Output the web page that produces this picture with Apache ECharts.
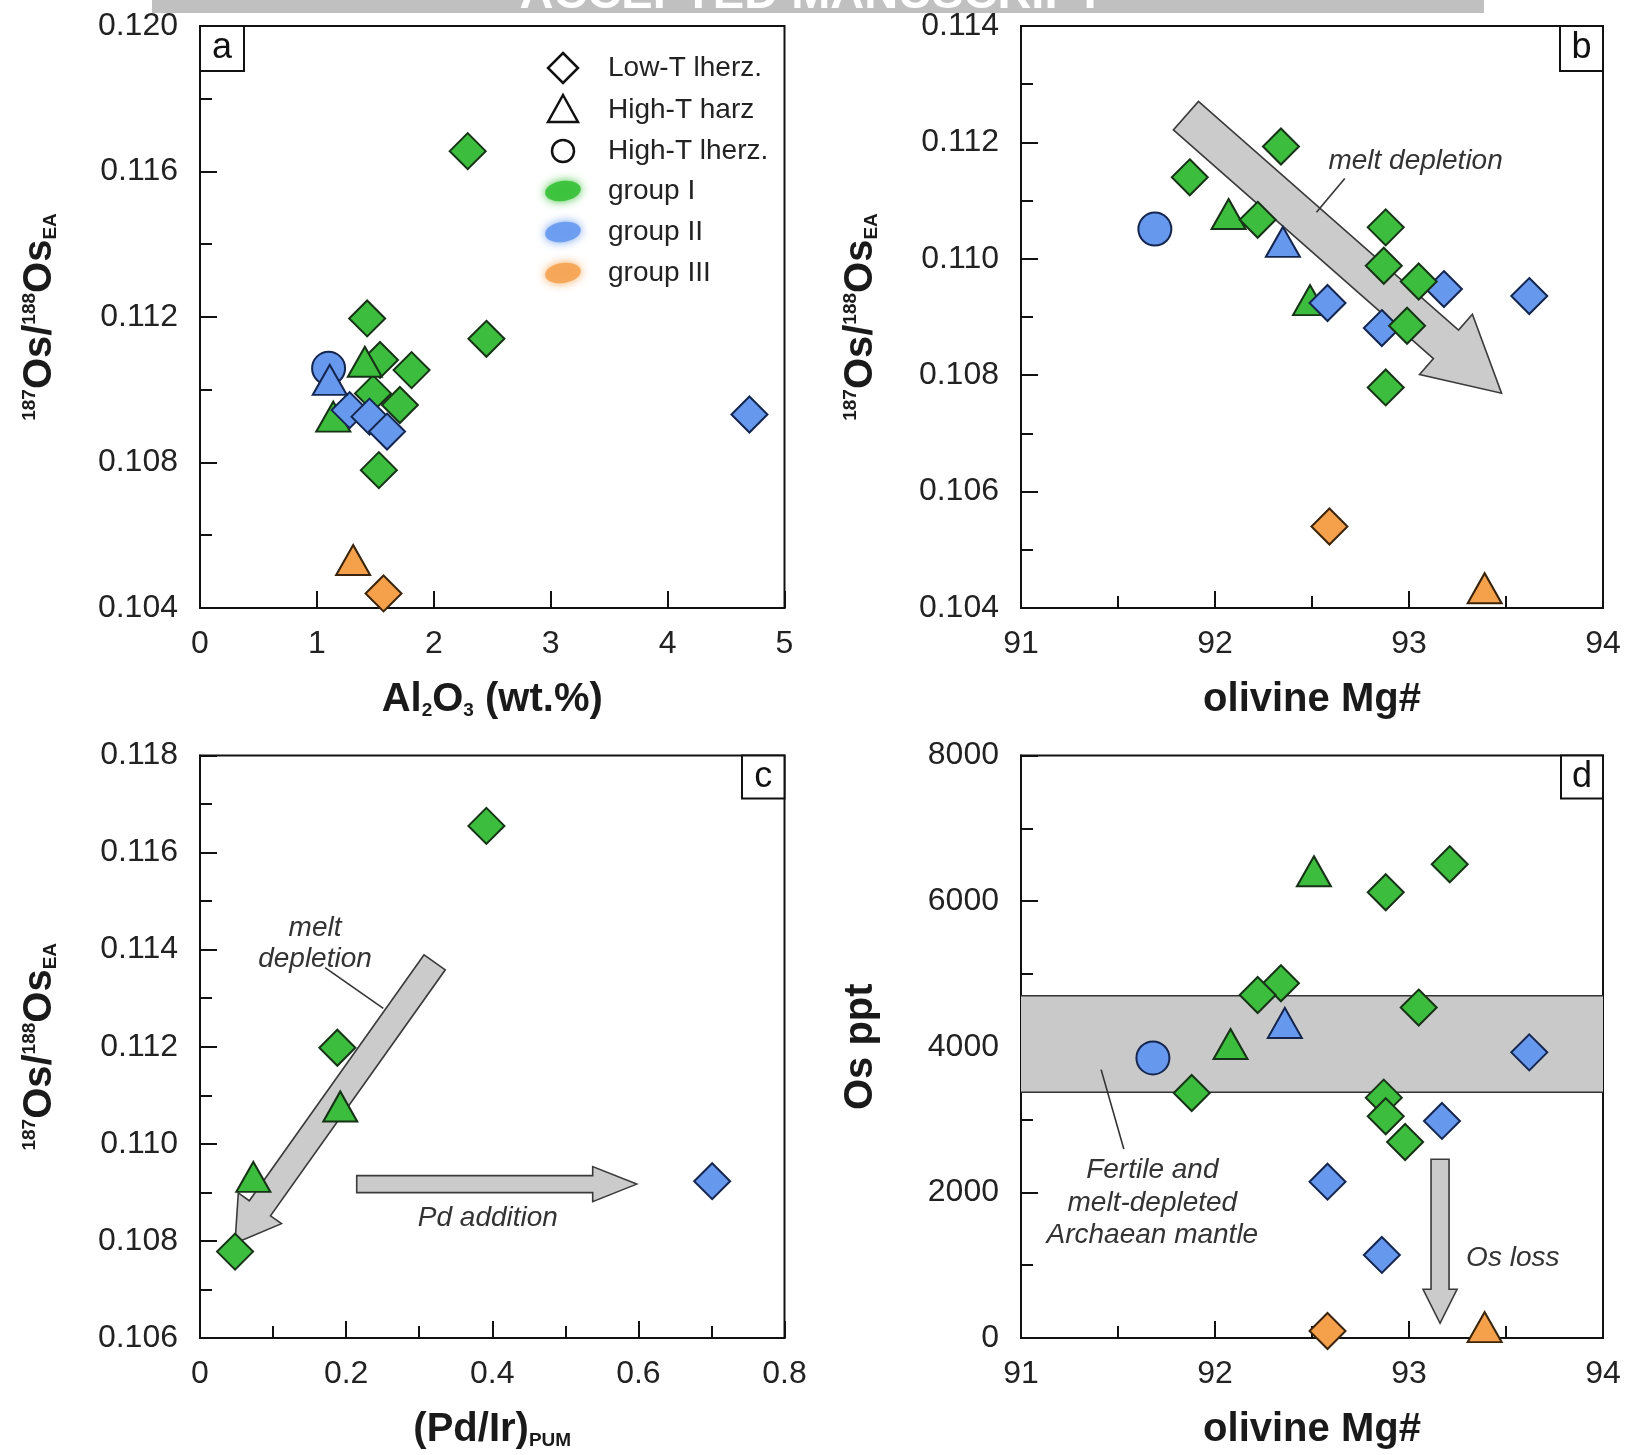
<!DOCTYPE html>
<html>
<head>
<meta charset="utf-8">
<script src="https://cdn.jsdelivr.net/npm/echarts@6/dist/echarts.min.js"></script>
<style>
html,body{margin:0;padding:0;background:#fff;}
#chart{width:1625px;height:1455px;}
</style>
</head>
<body>
<div id="chart"></div>
<script>
// ---------------- DATA ----------------
// Panel a: Al2O3 (wt.%) vs 187Os/188Os
const a_g_diamond = [[2.29,0.11656],[2.45,0.1114],[1.43,0.11196],[1.54,0.11082],[1.81,0.11054],[1.48,0.1099],[1.71,0.10958],[1.53,0.10779]];
const a_g_triangle = [[1.41,0.11077],[1.14,0.10926]];
const a_b_circle = [[1.10,0.11059]];
const a_b_triangle = [[1.11,0.11027]];
const a_b_diamond = [[1.28,0.10944],[1.45,0.10926],[1.60,0.10885],[4.70,0.10932]];
const a_o_triangle = [[1.31,0.10532]];
const a_o_diamond = [[1.57,0.1044]];

// Panel b: olivine Mg# vs 187Os/188Os
const b_g_diamond = [[91.87,0.1114],[92.34,0.11193],[92.22,0.11067],[92.88,0.11054],[92.87,0.10988],[93.05,0.10961],[92.99,0.10885],[92.88,0.10779]];
const b_g_triangle = [[92.07,0.11077],[92.49,0.10929]];
const b_b_circle = [[91.69,0.11051]];
const b_b_triangle = [[92.35,0.11029]];
const b_b_diamond = [[93.18,0.10948],[93.62,0.10936],[92.58,0.10924],[92.86,0.10881]];
const b_o_diamond = [[92.59,0.1054]];
const b_o_triangle = [[93.39,0.10434]];
const b_arrows = [[91.85,0.11246,93.477,0.10769]];
const b_pointer = [[92.669,0.11138,92.523,0.1108]];
const b_notes = [[93.034,0.11167,'melt depletion']];

// Panel c: (Pd/Ir)PUM vs 187Os/188Os
const c_g_diamond = [[0.392,0.11655],[0.188,0.11198],[0.048,0.10778]];
const c_g_triangle = [[0.192,0.11077],[0.073,0.10932]];
const c_b_diamond = [[0.701,0.10923]];
const c_arrow_melt = [[0.3212,0.11374,0.0479,0.10795]];
const c_arrow_pd = [[0.2145,0.10917,0.5977,0.10917]];
const c_pointer = [[0.1711,0.11363,0.2509,0.11279]];
const c_notes = [[0.1574,0.11444,'melt'],[0.1574,0.1138,'depletion'],[0.394,0.10847,'Pd addition']];

// Panel d: olivine Mg# vs Os ppt
const d_g_diamond = [[92.88,6122],[93.21,6506],[92.34,4872],[92.22,4711],[93.05,4538],[91.88,3365],[92.87,3301],[92.88,3045],[92.98,2692]];
const d_g_triangle = [[92.51,6410],[92.08,4038]];
const d_b_circle = [[91.68,3846]];
const d_b_triangle = [[92.36,4327]];
const d_b_diamond = [[93.62,3923],[93.17,2981],[92.58,2147],[92.86,1141]];
const d_o_diamond = [[92.58,96]];
const d_o_triangle = [[93.39,150]];
const d_band = [[3375,4700]];
const d_arrows = [[93.16,2454,93.16,202]];
const d_pointer = [[91.413,3686,91.53,2596]];
const d_notes = [[91.677,2300,'Fertile and'],[91.677,1855,'melt-depleted'],[91.677,1409,'Archaean mantle'],[93.535,1099,'Os loss']];

// Legend entries (panel a)
const legendShapes = ['Low-T lherz.','High-T harz','High-T lherz.'];
const legendGroups = ['group I','group II','group III'];

// ---------------- STYLE ----------------
const FONT = '"Liberation Sans", Arial, Helvetica, sans-serif';
const GREEN = '#3dbd3d', BLUE = '#6698ee', ORANGE = '#f5a04a';
const GREEN_B = '#173317', BLUE_B = '#14264f', ORANGE_B = '#3a240c';
const AX = '#111';
const TXT = '#222';

const grids = [
  {left:200, top:26, width:584.5, height:582},
  {left:1021, top:26, width:582, height:582},
  {left:200, top:755.5, width:584.5, height:582.5},
  {left:1021, top:755.5, width:582, height:582.5}
];

const richName = {
  m:{fontSize:40,fontWeight:'bold',fontFamily:FONT,color:'#1a1a1a'},
  sup:{fontSize:19,fontWeight:'bold',fontFamily:FONT,color:'#1a1a1a',verticalAlign:'top'},
  sub:{fontSize:19,fontWeight:'bold',fontFamily:FONT,color:'#1a1a1a',verticalAlign:'bottom'}
};

function mkAxis(type, gi, min, max, interval, minor, fmt, name, nameGap) {
  const ax = {
    type:'value', gridIndex:gi, min:min, max:max, interval:interval,
    position: type==='x' ? 'bottom' : 'left',
    axisLine:{show:true, onZero:false, lineStyle:{color:AX, width:2}},
    axisTick:{show:true, inside:true, length:17, lineStyle:{color:AX, width:2}},
    minorTick:{show:minor, splitNumber:2, length:12, lineStyle:{color:AX, width:2}},
    splitLine:{show:false}, minorSplitLine:{show:false},
    axisLabel:{show:true, margin: type==='x'?20:22, color:TXT, fontSize:32, fontFamily:FONT, formatter:fmt},
    name:name, nameLocation:'middle', nameGap:nameGap,
    nameTextStyle:{fontSize:40, fontWeight:'bold', fontFamily:FONT, color:'#1a1a1a', rich:richName}
  };
  if (type==='y') ax.nameRotate = 90;
  return ax;
}
const f3 = v => v.toFixed(3);
const f0 = v => String(Math.round(v));
const f1 = v => (v===0 ? '0' : v.toFixed(1));
const osName = '{sup|187}{m|Os/}{sup|188}{m|Os}{sub|EA}';

const xAxes = [
  mkAxis('x',0,0,5,1,false,f0,'{m|Al}{sub|2}{m|O}{sub|3}{m| (wt.%)}',72),
  mkAxis('x',1,91,94,1,true,f0,'olivine Mg#',72),
  mkAxis('x',2,0,0.8,0.2,true,f1,'{m|(Pd/Ir)}{sub|PUM}',72),
  mkAxis('x',3,91,94,1,true,f0,'olivine Mg#',72)
];
const yAxes = [
  mkAxis('y',0,0.104,0.120,0.004,true,f3,osName,140),
  mkAxis('y',1,0.104,0.114,0.002,true,f3,osName,140),
  mkAxis('y',2,0.106,0.118,0.002,true,f3,osName,140),
  mkAxis('y',3,0,8000,2000,true,f0,'Os ppt',140)
];

function scat(gi, data, kind, color) {
  const fill = color==='g'?GREEN:color==='b'?BLUE:ORANGE;
  const bord = color==='g'?GREEN_B:color==='b'?BLUE_B:ORANGE_B;
  let symbol='diamond', size=36;
  if (kind==='t'){symbol='triangle'; size=[34,30];}
  if (kind==='c'){symbol='circle'; size=33;}
  return {type:'scatter', xAxisIndex:gi, yAxisIndex:gi, data:data, symbol:symbol, symbolSize:size,
    itemStyle:{color:fill, borderColor:bord, borderWidth:2, opacity:1}, z:5, silent:true, clip:false};
}

function arrowSeries(gi, data, sw, hw, hl) {
  return {type:'custom', xAxisIndex:gi, yAxisIndex:gi, data:data, z:2, silent:true, clip:false,
    renderItem:function(params, api){
      const p1 = api.coord([api.value(0), api.value(1)]);
      const p2 = api.coord([api.value(2), api.value(3)]);
      const dx=p2[0]-p1[0], dy=p2[1]-p1[1];
      const L=Math.hypot(dx,dy), ux=dx/L, uy=dy/L, nx=-uy, ny=ux;
      const bx=p2[0]-ux*hl, by=p2[1]-uy*hl;
      const pts=[
        [p1[0]+nx*sw/2,p1[1]+ny*sw/2],[bx+nx*sw/2,by+ny*sw/2],[bx+nx*hw/2,by+ny*hw/2],
        [p2[0],p2[1]],
        [bx-nx*hw/2,by-ny*hw/2],[bx-nx*sw/2,by-ny*sw/2],[p1[0]-nx*sw/2,p1[1]-ny*sw/2]];
      return {type:'polygon', shape:{points:pts}, style:{fill:'#cbcbcb', stroke:'#3a3a3a', lineWidth:1.6}};
    }};
}

function lineSeries(gi, data) {
  return {type:'custom', xAxisIndex:gi, yAxisIndex:gi, data:data, z:3, silent:true, clip:false,
    renderItem:function(params, api){
      const p1 = api.coord([api.value(0), api.value(1)]);
      const p2 = api.coord([api.value(2), api.value(3)]);
      return {type:'line', shape:{x1:p1[0],y1:p1[1],x2:p2[0],y2:p2[1]}, style:{stroke:'#333', lineWidth:1.6}};
    }};
}

function noteSeries(gi, data) {
  return {type:'custom', xAxisIndex:gi, yAxisIndex:gi, data:data.map(d=>[d[0],d[1]]), z:6, silent:true, clip:false,
    renderItem:function(params, api){
      const p = api.coord([api.value(0), api.value(1)]);
      return {type:'text', x:p[0], y:p[1], style:{text:data[params.dataIndex][2], font:'italic 28px '+FONT,
        fill:'#333', align:'center', verticalAlign:'middle', textAlign:'center', textVerticalAlign:'middle'}};
    }};
}

function bandSeries(gi, data) {
  return {type:'custom', xAxisIndex:gi, yAxisIndex:gi, data:data, z:1, silent:true, clip:false,
    renderItem:function(params, api){
      const cs = params.coordSys;
      const y1 = api.coord([0, api.value(1)])[1];
      const y2 = api.coord([0, api.value(0)])[1];
      return {type:'group', children:[
        {type:'rect', shape:{x:cs.x, y:y1, width:cs.width, height:y2-y1}, style:{fill:'#c9c9c9'}},
        {type:'line', shape:{x1:cs.x,y1:y1,x2:cs.x+cs.width,y2:y1}, style:{stroke:'#333',lineWidth:1.6}},
        {type:'line', shape:{x1:cs.x,y1:y2,x2:cs.x+cs.width,y2:y2}, style:{stroke:'#333',lineWidth:1.6}}
      ]};
    }};
}

const series = [
  // a
  scat(0,a_g_diamond,'d','g'), scat(0,a_g_triangle,'t','g'),
  scat(0,a_b_diamond,'d','b'), scat(0,a_b_circle,'c','b'), scat(0,a_b_triangle,'t','b'),
  scat(0,a_o_triangle,'t','o'), scat(0,a_o_diamond,'d','o'),
  // b
  arrowSeries(1,b_arrows,38,80,74), lineSeries(1,b_pointer), noteSeries(1,b_notes),
  scat(1,b_g_triangle,'t','g'), scat(1,b_b_diamond,'d','b'), scat(1,b_g_diamond,'d','g'),
  scat(1,b_b_circle,'c','b'), scat(1,b_b_triangle,'t','b'),
  scat(1,b_o_diamond,'d','o'), scat(1,b_o_triangle,'t','o'),
  // c
  arrowSeries(2,c_arrow_melt,26,53,43), arrowSeries(2,c_arrow_pd,17,35,44),
  lineSeries(2,c_pointer), noteSeries(2,c_notes),
  scat(2,c_g_diamond,'d','g'), scat(2,c_g_triangle,'t','g'), scat(2,c_b_diamond,'d','b'),
  // d
  bandSeries(3,d_band), lineSeries(3,d_pointer), arrowSeries(3,d_arrows,18,34,34), noteSeries(3,d_notes),
  scat(3,d_g_diamond,'d','g'), scat(3,d_g_triangle,'t','g'),
  scat(3,d_b_diamond,'d','b'), scat(3,d_b_circle,'c','b'), scat(3,d_b_triangle,'t','b'),
  scat(3,d_o_diamond,'d','o'), scat(3,d_o_triangle,'t','o')
];

// ---------------- GRAPHIC (layout decorations) ----------------
function panelLabel(x, y, w, h, t) {
  return [
    {type:'rect', shape:{x:x,y:y,width:w,height:h}, style:{fill:'#fff', stroke:AX, lineWidth:2}, z:10},
    {type:'text', x:x+w/2, y:y+h/2, style:{text:t, font:'36px '+FONT, fill:'#111', align:'center', verticalAlign:'middle', textAlign:'center', textVerticalAlign:'middle'}, z:11}
  ];
}
function blob(cx, cy, col) {
  return {type:'ellipse', shape:{cx:cx, cy:cy, rx:18, ry:10}, rotation:0.15, originX:cx, originY:cy,
    style:{fill:col, shadowBlur:10, shadowColor:col, opacity:0.95}, z:10};
}
const LX = 563, TX = 608;
const legendRows = [68,110,151,191,232,273];
const graphics = [
  {type:'rect', shape:{x:152,y:0,width:1332,height:13}, style:{fill:'#c0c0c0'}, z:0},
  {type:'text', x:812, y:-28, style:{text:'ACCEPTED MANUSCRIPT', font:'bold 47px '+FONT, fill:'#ffffff', align:'center', verticalAlign:'top', textAlign:'center', textVerticalAlign:'top'}, z:1},
  ...panelLabel(200,26,44,45,'a'),
  ...panelLabel(1560,26,43,45,'b'),
  ...panelLabel(742,755.5,42.5,43,'c'),
  ...panelLabel(1561,755.5,42,43,'d'),
  {type:'polygon', shape:{points:[[LX,legendRows[0]-15],[LX+15,legendRows[0]],[LX,legendRows[0]+15],[LX-15,legendRows[0]]]}, style:{fill:'#fff', stroke:'#111', lineWidth:2.5}, z:10},
  {type:'polygon', shape:{points:[[LX,legendRows[1]-15],[LX+15,legendRows[1]+12],[LX-15,legendRows[1]+12]]}, style:{fill:'#fff', stroke:'#111', lineWidth:2.5}, z:10},
  {type:'circle', shape:{cx:LX, cy:legendRows[2], r:11}, style:{fill:'#fff', stroke:'#111', lineWidth:2.5}, z:10},
  blob(LX, legendRows[3], '#3cc23c'),
  blob(LX, legendRows[4], '#6c9cf0'),
  blob(LX, legendRows[5], '#f5a556')
];
legendShapes.concat(legendGroups).forEach((t,i)=>{
  graphics.push({type:'text', x:TX, y:legendRows[i], style:{text:t, font:'28px '+FONT, fill:'#222', align:'left', verticalAlign:'middle', textAlign:'left', textVerticalAlign:'middle'}, z:10});
});

const chart = echarts.init(document.getElementById('chart'), null, {renderer:'canvas'});
chart.setOption({
  animation:false,
  backgroundColor:'#ffffff',
  grid: grids.map(g=>Object.assign({show:true, borderColor:AX, borderWidth:2, backgroundColor:'transparent', containLabel:false, outerBoundsMode:'none'}, g)),
  xAxis: xAxes,
  yAxis: yAxes,
  series: series,
  graphic: {elements: graphics}
});
</script>
</body>
</html>
